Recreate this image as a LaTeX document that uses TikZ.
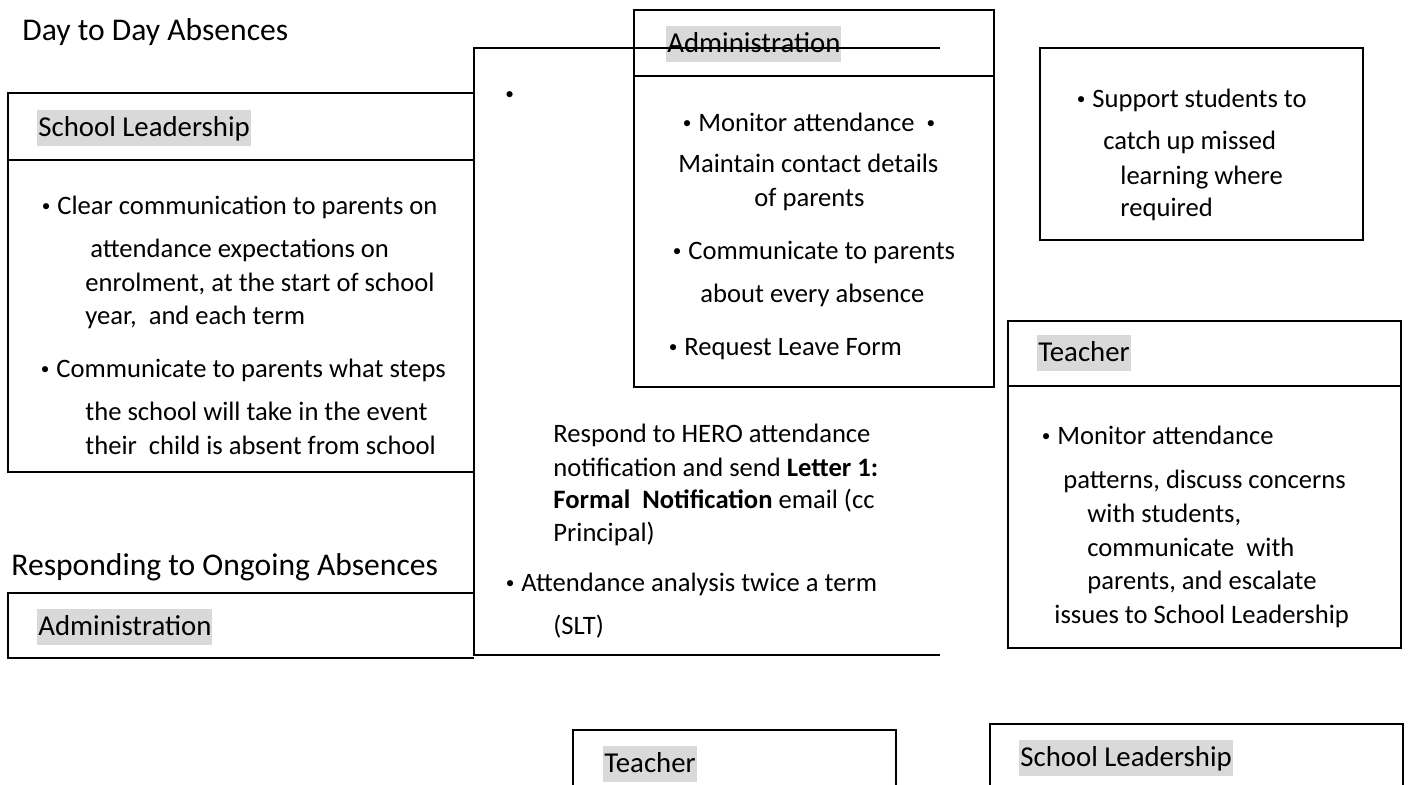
\documentclass[tikz,border=0pt]{standalone}
\usepackage{fontspec}
\setmainfont{Carlito}
\usepackage{tikz}
\usepackage{xcolor}
\usetikzlibrary{positioning}

\newcommand{\smbul}{\raisebox{1.5pt}{\scalebox{0.65}{\textbullet}}}
\newcommand{\bulit}{\llap{\smbul\hspace{3.5pt}}}

\begin{document}
\begin{tikzpicture}[x=0.5pt,y=-0.5pt]
  \tikzstyle{boxline}=[line width=1pt,line join=miter]
  \tikzstyle{txt}=[anchor=base west,inner sep=0pt,font=\fontsize{13.3}{16}\selectfont]
  \tikzstyle{hdr}=[anchor=base west,inner sep=0pt,inner xsep=0.5pt,fill=black!15,
    text height=13.5pt,text depth=4.5pt,font=\fontsize{14.4}{17}\selectfont]
  \tikzstyle{ttl}=[anchor=base west,inner sep=0pt,font=\fontsize{15.8}{19}\selectfont]
  \useasboundingbox (0,0) rectangle (1409,785);

  % titles
  \node[ttl] (day) at (22,40.5) {Day to Day Absences};
  \node[ttl] (ongoing) at (11,576) {Responding to Ongoing Absences};

  % school leadership (left)
  \draw[boxline] (8,93) rectangle (474,472);
  \draw[boxline] (8,160) -- (474,160);
  \node[hdr] (lead1) at (37,137) {School Leadership};
  \node[txt] (l1) at (57,215) {\bulit Clear communication to parents on};
  \node[txt] (l2) at (90,258) {attendance expectations on};
  \node[txt] (l3) at (85,292) {enrolment, at the start of school};
  \node[txt] (l4) at (85,325) {year,\ \ and each term};
  \node[txt] (l5) at (56,378) {\bulit Communicate to parents what steps};
  \node[txt] (l6) at (85,421) {the school will take in the event};
  \node[txt] (l7) at (85,455) {their\ \ child is absent from school};

  % administration (lower left)
  \draw[boxline] (474,593) -- (8,593) -- (8,658) -- (474,658);
  \node[hdr] (admin2) at (37,636) {Administration};

  % administration (top)
  \draw[boxline] (634,10) rectangle (994,387);
  \draw[boxline] (634,76) -- (994,76);
  \node[hdr] (admin1) at (666,53) {Administration};
  \node[txt] (a1) at (698,132) {\bulit Monitor attendance\hspace{6pt}\smbul};
  \node[txt] (a2) at (678,173) {Maintain contact details};
  \node[txt] (a3) at (754,207) {of parents};
  \node[txt] (a4) at (688,260) {\bulit Communicate to parents};
  \node[txt] (a5) at (700,303) {about every absence};
  \node[txt] (a6) at (684,356) {\bulit Request Leave Form};

  % middle panel
  \draw[boxline] (940,47.7) -- (474,47.7) -- (474,655) -- (940,655);
  \node[txt] (m0) at (505,103) {\smbul};
  \node[txt] (m1) at (553,443) {Respond to HERO attendance};
  \node[txt] (m2) at (553,477) {notification and send \textbf{Letter 1:}};
  \node[txt] (m3) at (553,509) {\textbf{Formal\ \ Notification} email (cc};
  \node[txt] (m4) at (553,542) {Principal)};
  \node[txt] (m5) at (521,592) {\bulit Attendance analysis twice a term};
  \node[txt] (m6) at (553,635) {(SLT)};

  % support box
  \draw[boxline] (1040,48) rectangle (1363,240);
  \node[txt] (s1) at (1092,108) {\bulit Support students to};
  \node[txt] (s2) at (1103,150) {catch up missed};
  \node[txt] (s3) at (1120,185) {learning where};
  \node[txt] (s4) at (1120,217) {required};

  % teacher (right)
  \draw[boxline] (1008,321) rectangle (1401,648);
  \draw[boxline] (1008,386) -- (1401,386);
  \node[hdr] (teach1) at (1037,362) {Teacher};
  \node[txt] (r1) at (1057,445) {\bulit Monitor attendance};
  \node[txt] (r2) at (1063,489) {patterns, discuss concerns};
  \node[txt] (r3) at (1087,523) {with students,};
  \node[txt] (r4) at (1087,557) {communicate\ \ with};
  \node[txt] (r5) at (1087,590) {parents, and escalate};
  \node[txt] (r6) at (1054,624) {issues to School Leadership};

  % bottom row
  \draw[boxline] (573,790) -- (573,730) -- (896,730) -- (896,790);
  \node[hdr] (teach2) at (603,773) {Teacher};
  \draw[boxline] (990,790) -- (990,724) -- (1403,724) -- (1403,790);
  \node[hdr] (lead2) at (1019,767) {School Leadership};
\end{tikzpicture}
\end{document}
